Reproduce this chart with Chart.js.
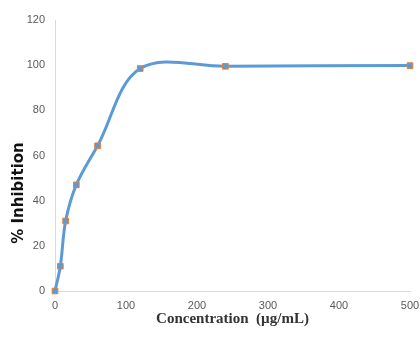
<!DOCTYPE html>
<html>
<head>
<meta charset="utf-8">
<script src="https://cdn.jsdelivr.net/npm/chart.js@4"></script>
<style>
  html, body { margin: 0; padding: 0; background: #fff; }
  #wrap { width: 420px; height: 356px; }
</style>
</head>
<body>
<div id="wrap"><canvas id="c"></canvas></div>
<script>
var concentrations = [0, 7.5, 15, 30, 60, 120, 240, 500];
var inhibition = [0, 11, 31, 47, 64.3, 98.5, 99.5, 99.8];
var yTicks = [0, 20, 40, 60, 80, 100, 120];
var xTicks = [0, 100, 200, 300, 400, 500];
var yTitle = '% Inhibition';
var xTitle = 'Concentration  (\u00b5g/mL)';

var tickFont = { family: "'Liberation Sans Narrow', 'Liberation Sans', sans-serif", size: 11 };

// y title sits lower than the axis middle in the original, so draw it by hand
var yTitlePlugin = {
    id: 'yTitle',
    afterDraw: function (chart) {
        var ctx = chart.ctx;
        ctx.save();
        ctx.translate(19, 193);
        ctx.rotate(-Math.PI / 2);
        ctx.font = "bold 15px 'DejaVu Sans', sans-serif";
        ctx.fillStyle = '#111';
        ctx.textAlign = 'center';
        ctx.textBaseline = 'middle';
        ctx.fillText(yTitle, 0, 0);
        ctx.restore();
    }
};

new Chart(document.getElementById('c'), {
    type: 'line',
    data: {
        datasets: [{
            data: concentrations.map(function (c, i) { return { x: c, y: inhibition[i] }; }),
            borderColor: '#5b9bd5',
            borderWidth: 3,
            tension: 0.35,
            pointStyle: 'rect',
            pointRadius: 4,
            pointBackgroundColor: '#5b9bd5',
            pointBorderColor: '#ed7d31',
            pointBorderWidth: 1,
            fill: false,
            clip: false
        }]
    },
    plugins: [yTitlePlugin],
    options: {
        responsive: true,
        maintainAspectRatio: false,
        animation: false,
        layout: { padding: { top: 20, right: 0, left: 0, bottom: 24 } },
        plugins: { legend: { display: false }, tooltip: { enabled: false } },
        scales: {
            x: {
                type: 'linear',
                min: 0, max: 500,
                afterBuildTicks: function (s) { s.ticks = xTicks.map(function (v) { return { value: v }; }); },
                afterFit: function (s) {
                    s.height = 41;
                    s.paddingRight = 10;
                    s.paddingLeft = 0;
                },
                grid: { display: false, drawTicks: false },
                border: { color: '#d9d9d9', width: 1 },
                ticks: { color: '#595959', font: tickFont, padding: 8, maxRotation: 0 },
                title: {
                    display: true,
                    text: xTitle,
                    color: '#333',
                    font: { family: "'Liberation Serif', serif", size: 15, weight: 'bold' },
                    padding: { top: 4, bottom: 4 }
                }
            },
            y: {
                min: 0, max: 120,
                afterBuildTicks: function (s) { s.ticks = yTicks.map(function (v) { return { value: v }; }); },
                afterFit: function (s) { s.width = 55; },
                grid: { display: false, drawTicks: false },
                border: { color: '#d9d9d9', width: 1 },
                ticks: { color: '#595959', font: tickFont, padding: 10 }
            }
        }
    }
});
</script>
</body>
</html>
